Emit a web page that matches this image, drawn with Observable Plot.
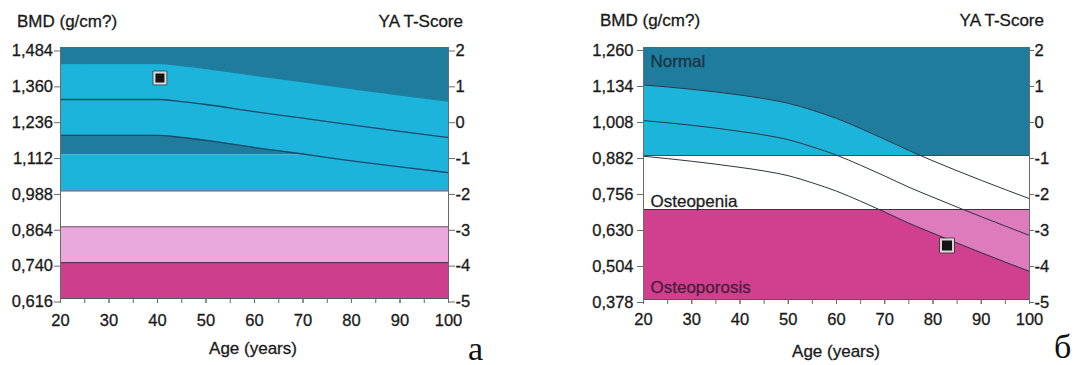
<!DOCTYPE html>
<html><head><meta charset="utf-8">
<script src="https://cdn.jsdelivr.net/npm/d3@7"></script>
<script src="https://cdn.jsdelivr.net/npm/@observablehq/plot@0.6"></script>
<style>
html,body{margin:0;padding:0;background:#fff;}
#wrap{position:relative;width:1076px;height:365px;overflow:hidden;font-family:"Liberation Sans",Arial,sans-serif;color:#1a1a1a;}
.t{position:absolute;white-space:nowrap;line-height:1;font-size:17px;-webkit-text-stroke:0.3px #1a1a1a;}
.serif{font-family:"Liberation Serif","Times New Roman",serif;font-size:34px;color:#111;-webkit-text-stroke:0;}
.panel{position:absolute;top:0;width:538px;height:365px;}
#wrap svg g[aria-label$="tick label"] text{stroke:#1a1a1a;stroke-width:0.3px;}
</style></head><body>
<div id="wrap">
  <div class="panel" id="pa" style="left:0"></div>
  <div class="panel" id="pb" style="left:538px"></div>
  <div class="t" style="left:17px;top:12.5px">BMD (g/cm?)</div>
  <div class="t" style="right:613px;top:13px">YA T-Score</div>
  <div class="t" style="left:600px;top:12.3px">BMD (g/cm?)</div>
  <div class="t" style="right:32px;top:11.8px">YA T-Score</div>
  <div class="t" style="left:253px;top:340px;transform:translateX(-50%)">Age (years)</div>
  <div class="t" style="left:836px;top:343px;transform:translateX(-50%)">Age (years)</div>
  <div class="t serif" style="left:468px;top:331.5px">a</div>
  <div class="t serif" style="left:1054px;top:329.5px">б</div>
</div>
<script>
// ---- data ----
const ageTicks = [20, 30, 40, 50, 60, 70, 80, 90, 100];
const minorAgeTicks = [20, 25, 30, 35, 40, 45, 50, 55, 60, 65, 70, 75, 80, 85, 90, 95, 100];
const tScoreTicks = [-5, -4, -3, -2, -1, 0, 1, 2];
const bmdLabelsA = ["0,616", "0,740", "0,864", "0,988", "1,112", "1,236", "1,360", "1,484"];
const bmdLabelsB = ["0,378", "0,504", "0,630", "0,756", "0,882", "1,008", "1,134", "1,260"];

// chart a: reference curves (T-score)
const agesA  = [20, 30, 40, 45, 50, 60, 70, 80, 90, 100];
const upperA = [1.55, 1.55, 1.55, 1.49, 1.41, 1.22, 1.04, 0.85, 0.67, 0.50];
const meanA  = [0.55, 0.55, 0.55, 0.49, 0.41, 0.21, 0.03, -0.16, -0.34, -0.51];
const lowerA = [-0.45, -0.45, -0.45, -0.51, -0.59, -0.79, -0.97, -1.16, -1.33, -1.49];
const patientA = [{age: 40.5, t: 1.15}];
const zoneEdgesA = [2, -1, -2, -3, -4, -5];

// chart б: reference curves (T-score)
const agesB  = [20, 30, 40, 45, 50, 55, 60, 65, 70, 75, 80, 90, 100];
const upperB = [0.96, 0.84, 0.68, 0.58, 0.45, 0.26, 0.03, -0.25, -0.55, -0.86, -1.15, -1.69, -2.20];
const meanB  = [-0.03, -0.16, -0.33, -0.43, -0.56, -0.76, -0.99, -1.27, -1.57, -1.88, -2.16, -2.70, -3.22];
const lowerB = [-1.02, -1.16, -1.33, -1.43, -1.56, -1.76, -1.99, -2.27, -2.57, -2.88, -3.16, -3.70, -4.22];
const patientB = [{age: 82.9, t: -3.5}];
const zoneEdgesB = [2, -1, -2.5, -5];
const zoneNamesB = ["Normal", "Osteopenia", "Osteoporosis"];

// ---- styles ----
const C = {
  dark: "#1f7c9d", light: "#1cb4da",
  pinkA: "#e9a9dc", magA: "#cd3e8c",
  pinkB: "#de7bbd", magB: "#d1408e",
  axis: "#6a6a6a", text: "#1a1a1a"
};
const FONT = "'Liberation Sans', Arial, sans-serif";
const xMin = ageTicks[0], xMax = ageTicks[ageTicks.length - 1];

const rowsOf = (ages, up, mean, low) => ages.map((age, i) => ({age, upper: up[i], mean: mean[i], lower: low[i]}));
const band = (lo, hi, fill) => Plot.rect([{a: xMin, b: xMax, lo, hi}], {x1: "a", x2: "b", y1: "lo", y2: "hi", fill});

function axes(labels, o) {
  return [
    Plot.ruleX([xMin], {stroke: C.axis, strokeWidth: 1}),
    Plot.ruleX([xMax], {stroke: C.axis, strokeWidth: 1}),
    Plot.ruleY([tScoreTicks[0]], {stroke: "#555", strokeWidth: 1}),
    Plot.axisY(tScoreTicks, {anchor: "left", tickFormat: d => labels[tScoreTicks.indexOf(d)], tickSize: 6, tickPadding: o.padL, dy: o.dy, stroke: C.axis, fill: C.text, fontSize: 16.5, label: null}),
    Plot.axisY(tScoreTicks, {anchor: "right", tickFormat: d => String(d), tickSize: o.tickR, tickPadding: 1, dy: o.dy, stroke: C.axis, fill: C.text, fontSize: 16.5, label: null}),
    Plot.axisX(minorAgeTicks, {tickFormat: () => "", tickSize: 5, stroke: C.axis, label: null}),
    Plot.axisX(ageTicks, {tickSize: 5, tickPadding: o.padX, stroke: C.axis, fill: C.text, fontSize: 16.5, label: null})
  ];
}

function marker(data, rIn) {
  return [
    Plot.dot(data, {x: "age", y: "t", symbol: "square", r: rIn + 1.5, fill: "none", stroke: "#333", strokeWidth: 1}),
    Plot.dot(data, {x: "age", y: "t", symbol: "square", r: rIn, fill: "#151515", stroke: "#d9d9d9", strokeWidth: 2})
  ];
}

// ---- chart a ----
const rowsA = rowsOf(agesA, upperA, meanA, lowerA);
const chartA = Plot.plot({
  width: 538, height: 365,
  marginLeft: 60, marginRight: 90, marginTop: 47, marginBottom: 67,
  x: {domain: [xMin, xMax]},
  y: {domain: [zoneEdgesA[5], zoneEdgesA[0]]},
  style: {fontFamily: FONT, fontSize: "16.5px", background: "transparent", overflow: "visible"},
  marks: [
    band(zoneEdgesA[1], zoneEdgesA[0], C.dark),
    Plot.area(rowsA, {x1: "age", y1: "lower", y2: "upper", fill: C.light, curve: "monotone-x"}),
    band(zoneEdgesA[2], zoneEdgesA[1], C.light),
    band(zoneEdgesA[4], zoneEdgesA[3], C.pinkA),
    band(zoneEdgesA[5], zoneEdgesA[4], C.magA),
    Plot.ruleY([zoneEdgesA[2]], {stroke: "#2b4a63", strokeWidth: 1}),
    Plot.ruleY([zoneEdgesA[3]], {stroke: "#6d5468", strokeWidth: 1}),
    Plot.ruleY([zoneEdgesA[4]], {stroke: "#4f2a44", strokeWidth: 1}),
    Plot.line(rowsA, {x: "age", y: "upper", stroke: "#1a5b7a", strokeWidth: 1, strokeOpacity: 0.6, curve: "monotone-x"}),
    Plot.line(rowsA, {x: "age", y: "mean", stroke: "#1a4a6a", strokeWidth: 1.3, curve: "monotone-x"}),
    Plot.line(rowsA, {x: "age", y: "lower", stroke: "#1a4a6a", strokeWidth: 1.3, curve: "monotone-x"}),
    ...axes(bmdLabelsA, {padL: 1.5, dy: 3.5, tickR: 6, padX: 11}),
    ...marker(patientA, 6.2)
  ]
});
document.getElementById("pa").appendChild(chartA);

// ---- chart б ----
const rowsB = rowsOf(agesB, upperB, meanB, lowerB);
const chartB = Plot.plot({
  width: 538, height: 365,
  marginLeft: 105, marginRight: 47, marginTop: 47, marginBottom: 66,
  x: {domain: [xMin, xMax]},
  y: {domain: [zoneEdgesB[3], zoneEdgesB[0]]},
  style: {fontFamily: FONT, fontSize: "16.5px", background: "transparent", overflow: "visible"},
  marks: [
    band(zoneEdgesB[3], zoneEdgesB[2], C.pinkB),
    Plot.area(rowsB, {x1: "age", y1: () => zoneEdgesB[3], y2: "lower", fill: C.magB, curve: "monotone-x"}),
    band(zoneEdgesB[1], zoneEdgesB[0], C.light),
    Plot.area(rowsB, {x1: "age", y1: "upper", y2: () => zoneEdgesB[0], fill: C.dark, curve: "monotone-x"}),
    band(zoneEdgesB[2], zoneEdgesB[1], "#ffffff"),
    Plot.ruleY([zoneEdgesB[1]], {stroke: "#34505e", strokeWidth: 1}),
    Plot.ruleY([zoneEdgesB[2]], {stroke: "#4a2a3c", strokeWidth: 1}),
    Plot.line(rowsB, {x: "age", y: "upper", stroke: "#2a3540", strokeWidth: 1, curve: "monotone-x"}),
    Plot.line(rowsB, {x: "age", y: "mean", stroke: "#2a3540", strokeWidth: 1, curve: "monotone-x"}),
    Plot.line(rowsB, {x: "age", y: "lower", stroke: "#2a3540", strokeWidth: 1, curve: "monotone-x"}),
    Plot.text([zoneNamesB[0]], {frameAnchor: "top-left", dx: 7, dy: 14, textAnchor: "start", lineAnchor: "middle", fill: "#173444", stroke: "#173444", strokeWidth: 0.3, fontSize: 17}),
    Plot.text([{t: zoneEdgesB[2], name: zoneNamesB[1]}], {x: () => xMin, y: "t", text: "name", dx: 7, dy: -8, textAnchor: "start", lineAnchor: "middle", fill: "#1e1e1e", stroke: "#1e1e1e", strokeWidth: 0.3, fontSize: 17}),
    Plot.text([zoneNamesB[2]], {frameAnchor: "bottom-left", dx: 7, dy: -12, textAnchor: "start", lineAnchor: "middle", fill: "#4a1d3c", stroke: "#4a1d3c", strokeWidth: 0.3, fontSize: 17}),
    ...axes(bmdLabelsB, {padL: 4, dy: 3, tickR: 4, padX: 9}),
    ...marker(patientB, 6.8)
  ]
});
document.getElementById("pb").appendChild(chartB);
</script>
</body></html>
